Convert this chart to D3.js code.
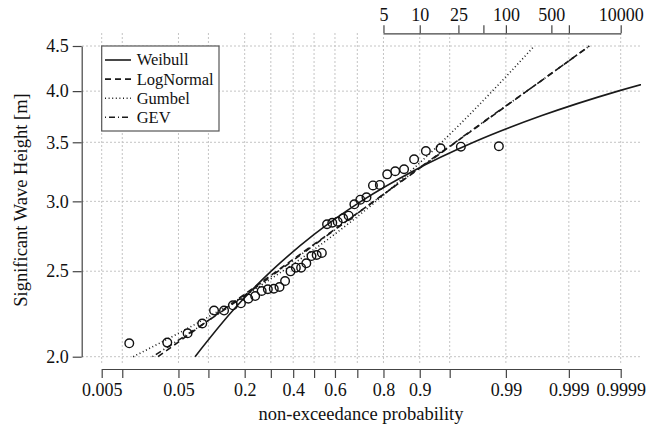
<!DOCTYPE html>
<html>
<head>
<meta charset="utf-8">
<script src="https://cdn.jsdelivr.net/npm/d3@7"></script>
<style>
body { margin: 0; background: #fff; }
svg { font-family: "Liberation Serif", "DejaVu Serif", serif; }
</style>
</head>
<body>
<svg width="659" height="426"></svg>
<script>
/* SECTION: data */

// observed maxima, sorted ascending [m]
var heights = [2.071, 2.075, 2.126, 2.181, 2.256, 2.256, 2.287, 2.299, 2.327, 2.343,
               2.374, 2.385, 2.388, 2.399, 2.437, 2.499, 2.523, 2.523, 2.552, 2.601,
               2.608, 2.622, 2.826, 2.837, 2.845, 2.870, 2.890, 2.977, 3.013, 3.032,
               3.127, 3.131, 3.219, 3.245, 3.262, 3.348, 3.421, 3.446, 3.460, 3.464];

// fitted curves: height -> non-exceedance probability
var weibullH = [2.0, 2.25, 2.5, 2.75, 3.0, 3.25, 3.5, 3.75, 4.0, 4.1, 4.2];
var weibullP = [0.0744, 0.1595, 0.3014, 0.4988, 0.7153, 0.8868, 0.97343, 0.997063, 0.999886, 0.999979, 0.999997];

var fitH = [2.0, 2.25, 2.5, 2.75, 3.0, 3.25, 3.5, 3.75, 4.0, 4.25, 4.5];
var lognormP = [0.0292, 0.1286, 0.325, 0.5643, 0.7655, 0.8925, 0.9571, 0.98473, 0.99506, 0.99852, 0.99958];
var gumbelP  = [0.0141, 0.121, 0.3513, 0.5957, 0.7737, 0.8806, 0.939, 0.96931, 0.98468, 0.992384, 0.996222];
var gevP     = [0.025, 0.131, 0.332, 0.568, 0.766, 0.891, 0.9565, 0.9845, 0.99505, 0.99852, 0.99958];

var probTicks  = [0.005, 0.01, 0.05, 0.1, 0.2, 0.3, 0.4, 0.5, 0.6, 0.7, 0.8, 0.9, 0.95, 0.99, 0.999, 0.9999];
var probLabels = ["0.005", "", "0.05", "", "0.2", "", "0.4", "", "0.6", "", "0.8", "0.9", "", "0.99", "0.999", "0.9999"];
var periodTicks  = [5, 10, 25, 50, 100, 500, 1000, 10000];
var periodLabels = ["5", "10", "25", "", "100", "500", "", "10000"];
var heightTicks = [2.0, 2.5, 3.0, 3.5, 4.0, 4.5];

var legendNames = ["Weibull", "LogNormal", "Gumbel", "GEV"];
var legendDash  = [null, "6,4", "1,2.6", "1,3,6,3"];

/* SECTION: helpers */

// inverse normal cdf (Acklam)
function qnorm(p) {
  var a = [-3.969683028665376e+01, 2.209460984245205e+02, -2.759285104469687e+02, 1.383577518672690e+02, -3.066479806614716e+01, 2.506628277459239e+00];
  var b = [-5.447609879822406e+01, 1.615858368580409e+02, -1.556989798598866e+02, 6.680131188771972e+01, -1.328068155288572e+01];
  var c = [-7.784894002430293e-03, -3.223964580411365e-01, -2.400758277161838e+00, -2.549732539343734e+00, 4.374664141464968e+00, 2.938163982698783e+00];
  var d = [7.784695709041462e-03, 3.224671290700398e-01, 2.445134137142996e+00, 3.754408661907416e+00];
  var plow = 0.02425, q, r;
  if (p < plow) {
    q = Math.sqrt(-2 * Math.log(p));
    return (((((c[0]*q+c[1])*q+c[2])*q+c[3])*q+c[4])*q+c[5]) / ((((d[0]*q+d[1])*q+d[2])*q+d[3])*q+1);
  }
  if (p > 1 - plow) {
    q = Math.sqrt(-2 * Math.log(1 - p));
    return -(((((c[0]*q+c[1])*q+c[2])*q+c[3])*q+c[4])*q+c[5]) / ((((d[0]*q+d[1])*q+d[2])*q+d[3])*q+1);
  }
  q = p - 0.5; r = q * q;
  return (((((a[0]*r+a[1])*r+a[2])*r+a[3])*r+a[4])*r+a[5])*q / (((((b[0]*r+b[1])*r+b[2])*r+b[3])*r+b[4])*r+1);
}

function zip(hs, ps) {
  return hs.map(function(h, i) { return [ps[i], h]; });
}

/* SECTION: scales */

var svg = d3.select("svg");
var axisCol = "#444";
var gridCol = "#c4c4c4";

var x = d3.scaleLinear().domain([qnorm(0.005), qnorm(0.9999)]).range([101.7, 620.7]);
var y = d3.scaleLog().domain([2, 4.5]).range([356.7, 46]);
var px = function(p) { return x(qnorm(p)); };

var clipL = 82, clipR = 641;

/* SECTION: grid */

var grid = svg.append("g").attr("stroke", gridCol).attr("stroke-width", 1).attr("stroke-dasharray", "2,2");
grid.selectAll("line.v").data(probTicks).enter().append("line")
    .attr("x1", px).attr("x2", px).attr("y1", 33).attr("y2", 363);
grid.selectAll("line.h").data(heightTicks).enter().append("line")
    .attr("x1", clipL).attr("x2", clipR)
    .attr("y1", function(d) { return y(d); }).attr("y2", function(d) { return y(d); });

/* SECTION: axes */

function styleAxis(g) {
  g.selectAll("path, line").attr("stroke", axisCol).attr("stroke-width", 1.2);
  g.selectAll("text").attr("fill", "#111").attr("font-size", 18).attr("font-family", "Liberation Serif, serif");
}

var xAxis = d3.axisBottom(x)
    .tickValues(probTicks.map(qnorm))
    .tickFormat(function(d, i) { return probLabels[i]; })
    .tickSize(9).tickSizeOuter(0).tickPadding(5);
svg.append("g").attr("transform", "translate(0,369)").call(xAxis).call(styleAxis);

var zTop0 = qnorm(1 - 1 / periodTicks[0]), zTop1 = qnorm(1 - 1 / periodTicks[periodTicks.length - 1]);
var xTop = x.copy().domain([zTop0, zTop1]).range([x(zTop0), x(zTop1)]);
var topAxis = d3.axisTop(xTop)
    .tickValues(periodTicks.map(function(t) { return qnorm(1 - 1 / t); }))
    .tickFormat(function(d, i) { return periodLabels[i]; })
    .tickSize(8).tickSizeOuter(0).tickPadding(4);
svg.append("g").attr("transform", "translate(0,33.3)").call(topAxis).call(styleAxis);

var yAxis = d3.axisLeft(y)
    .tickValues(heightTicks)
    .tickFormat(d3.format(".1f"))
    .tickSize(9).tickSizeOuter(0).tickPadding(4);
svg.append("g").attr("transform", "translate(81.7,0)").call(yAxis).call(styleAxis);

svg.append("text").attr("x", 361).attr("y", 420).attr("text-anchor", "middle")
    .attr("font-size", 18.5).attr("fill", "#111").text("non-exceedance probability");
svg.append("text").attr("transform", "translate(27,200) rotate(-90)").attr("text-anchor", "middle")
    .attr("font-size", 18.5).attr("fill", "#111").text("Significant Wave Height [m]");

/* SECTION: fits and points */

svg.append("clipPath").attr("id", "plotclip").append("rect")
    .attr("x", clipL).attr("y", 30).attr("width", clipR - clipL).attr("height", 340);

var line = d3.line()
    .x(function(d) { return px(d[0]); })
    .y(function(d) { return y(d[1]); })
    .curve(d3.curveMonotoneX);

var fits = [zip(weibullH, weibullP), zip(fitH, lognormP), zip(fitH, gumbelP), zip(fitH, gevP)];

svg.append("g").attr("clip-path", "url(#plotclip)")
  .selectAll("path").data(fits).enter().append("path")
    .attr("d", line)
    .attr("fill", "none")
    .attr("stroke", "#1a1a1a")
    .attr("stroke-width", 1.6)
    .attr("stroke-dasharray", function(d, i) { return legendDash[i]; });

svg.append("g").selectAll("circle").data(heights).enter().append("circle")
    .attr("cx", function(d, i) { return px((i + 0.5) / heights.length); })
    .attr("cy", function(d) { return y(d); })
    .attr("r", 4.3)
    .attr("fill", "none")
    .attr("stroke", "#111")
    .attr("stroke-width", 1.4);

/* SECTION: legend */

var legend = svg.append("g");
legend.append("rect").attr("x", 101.7).attr("y", 46).attr("width", 117.3).attr("height", 85)
    .attr("fill", "#fff").attr("stroke", "#555").attr("stroke-width", 1.2);
var item = legend.selectAll("g.item").data(legendNames).enter().append("g")
    .attr("transform", function(d, i) { return "translate(0," + (60 + i * 19.1) + ")"; });
item.append("line").attr("x1", 105).attr("x2", 131)
    .attr("stroke", "#1a1a1a").attr("stroke-width", 1.6)
    .attr("stroke-dasharray", function(d, i) { return legendDash[i]; });
item.append("text").attr("x", 136.7).attr("dy", "0.33em").attr("font-size", 16.5).attr("fill", "#111")
    .text(function(d) { return d; });
</script>
</body>
</html>
